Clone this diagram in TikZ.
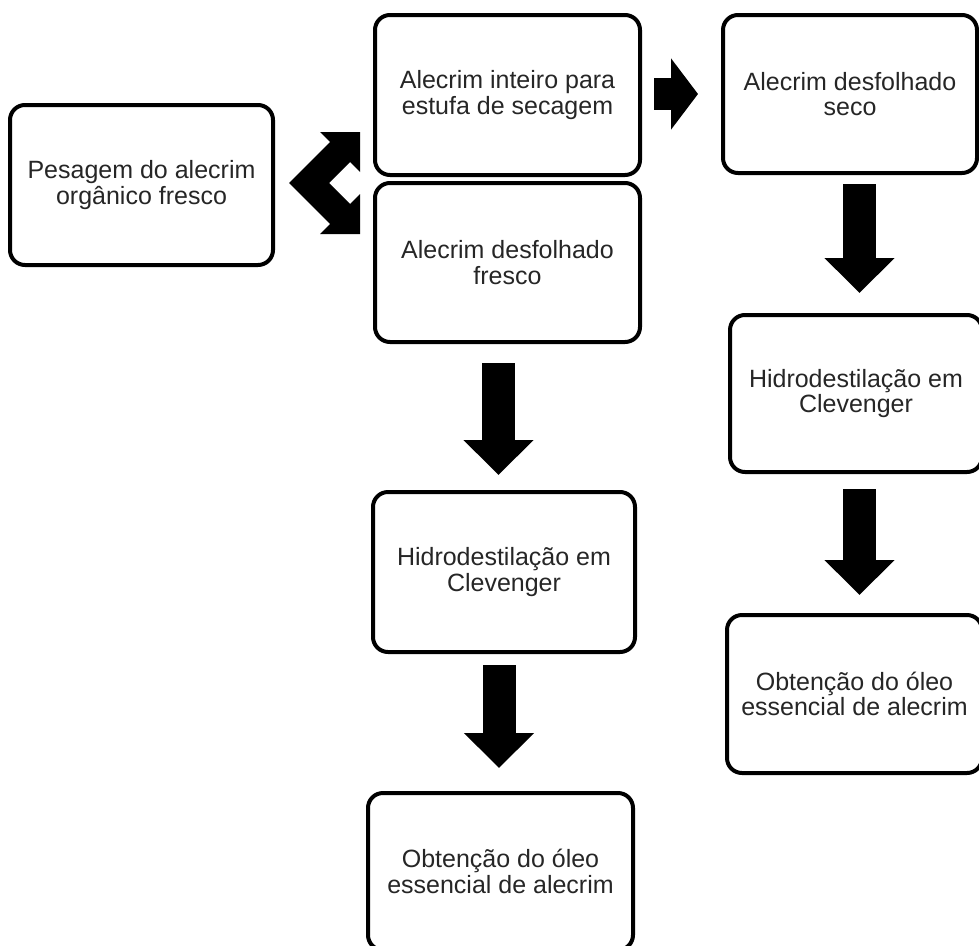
\documentclass[tikz,border=0pt]{standalone}
\usepackage{fontspec}
\setmainfont{Liberation Sans}
\usetikzlibrary{arrows.meta,calc}

\begin{document}
\begin{tikzpicture}[x=1pt,y=-1pt,
    etapa/.style={draw=black, line width=4pt, rounded corners=15pt, align=center, inner sep=0pt,
        text=black!85, font=\fontsize{25}{25.5}\selectfont},
    blockarrow/.style={line width=33pt, -{Triangle[width=68pt,length=35pt]}}]
    \useasboundingbox (0,0) rectangle (979,945);

    \node[etapa, minimum width=263pt, minimum height=160pt] (pesagem) at (141.5,185) {Pesagem do alecrim\\orgânico fresco};
    \node[etapa, minimum width=265pt, minimum height=160pt] (estufa) at (507.5,95) {Alecrim inteiro para\\estufa de secagem};
    \node[etapa, minimum width=265pt, minimum height=159pt] (desfFresco) at (507.5,262.5) {Alecrim desfolhado\\fresco};
    \node[etapa, minimum width=254pt, minimum height=158pt] (desfSeco) at (850,94) {Alecrim desfolhado\\seco};
    \node[etapa, minimum width=252pt, minimum height=157pt] (hidroSeco) at (856,393.5) {Hidrodestilação em\\Clevenger};
    \node[etapa, minimum width=255pt, minimum height=158pt] (oleoSeco) at (854.5,694) {Obtenção do óleo\\essencial de alecrim};
    \node[etapa, minimum width=262pt, minimum height=160pt] (hidroFresco) at (504,572) {Hidrodestilação em\\Clevenger};
    \node[etapa, minimum width=265pt, minimum height=157pt] (oleoFresco) at (500.5,871.5) {Obtenção do óleo\\essencial de alecrim};

    \fill ($(pesagem.east)+(14,-2)$) -- ++(41,-41) -- ++(-10,-10) -- ++(40,0) -- ++(0,40) -- ++(-10,-10)
        -- ++(-21,21) -- ++(21,21) -- ++(10,-10) -- ++(0,40) -- ++(-40,0) -- ++(10,-10) -- cycle;

    \draw[blockarrow, line width=32pt, -{Triangle[width=70pt,length=27pt]}] ($(estufa.east)+(12,-1)$) -- ($(estufa.east -| desfSeco.west)+(-23,-1)$);
    \draw[blockarrow] ($(desfFresco.south)+(-9,19)$) -- ($(desfFresco.south |- hidroFresco.north)+(-9,-15)$);
    \draw[blockarrow] ($(hidroFresco.south)+(-5,11)$) -- ($(hidroFresco.south |- oleoFresco.north)+(-5,-23)$);
    \draw[blockarrow] ($(desfSeco.south)+(9.5,9)$) -- ($(desfSeco.south |- hidroSeco.north)+(9.5,-20)$);
    \draw[blockarrow] ($(hidroSeco.south)+(3.5,15)$) -- ($(hidroSeco.south |- oleoSeco.north)+(3.5,-18)$);
\end{tikzpicture}
\end{document}
